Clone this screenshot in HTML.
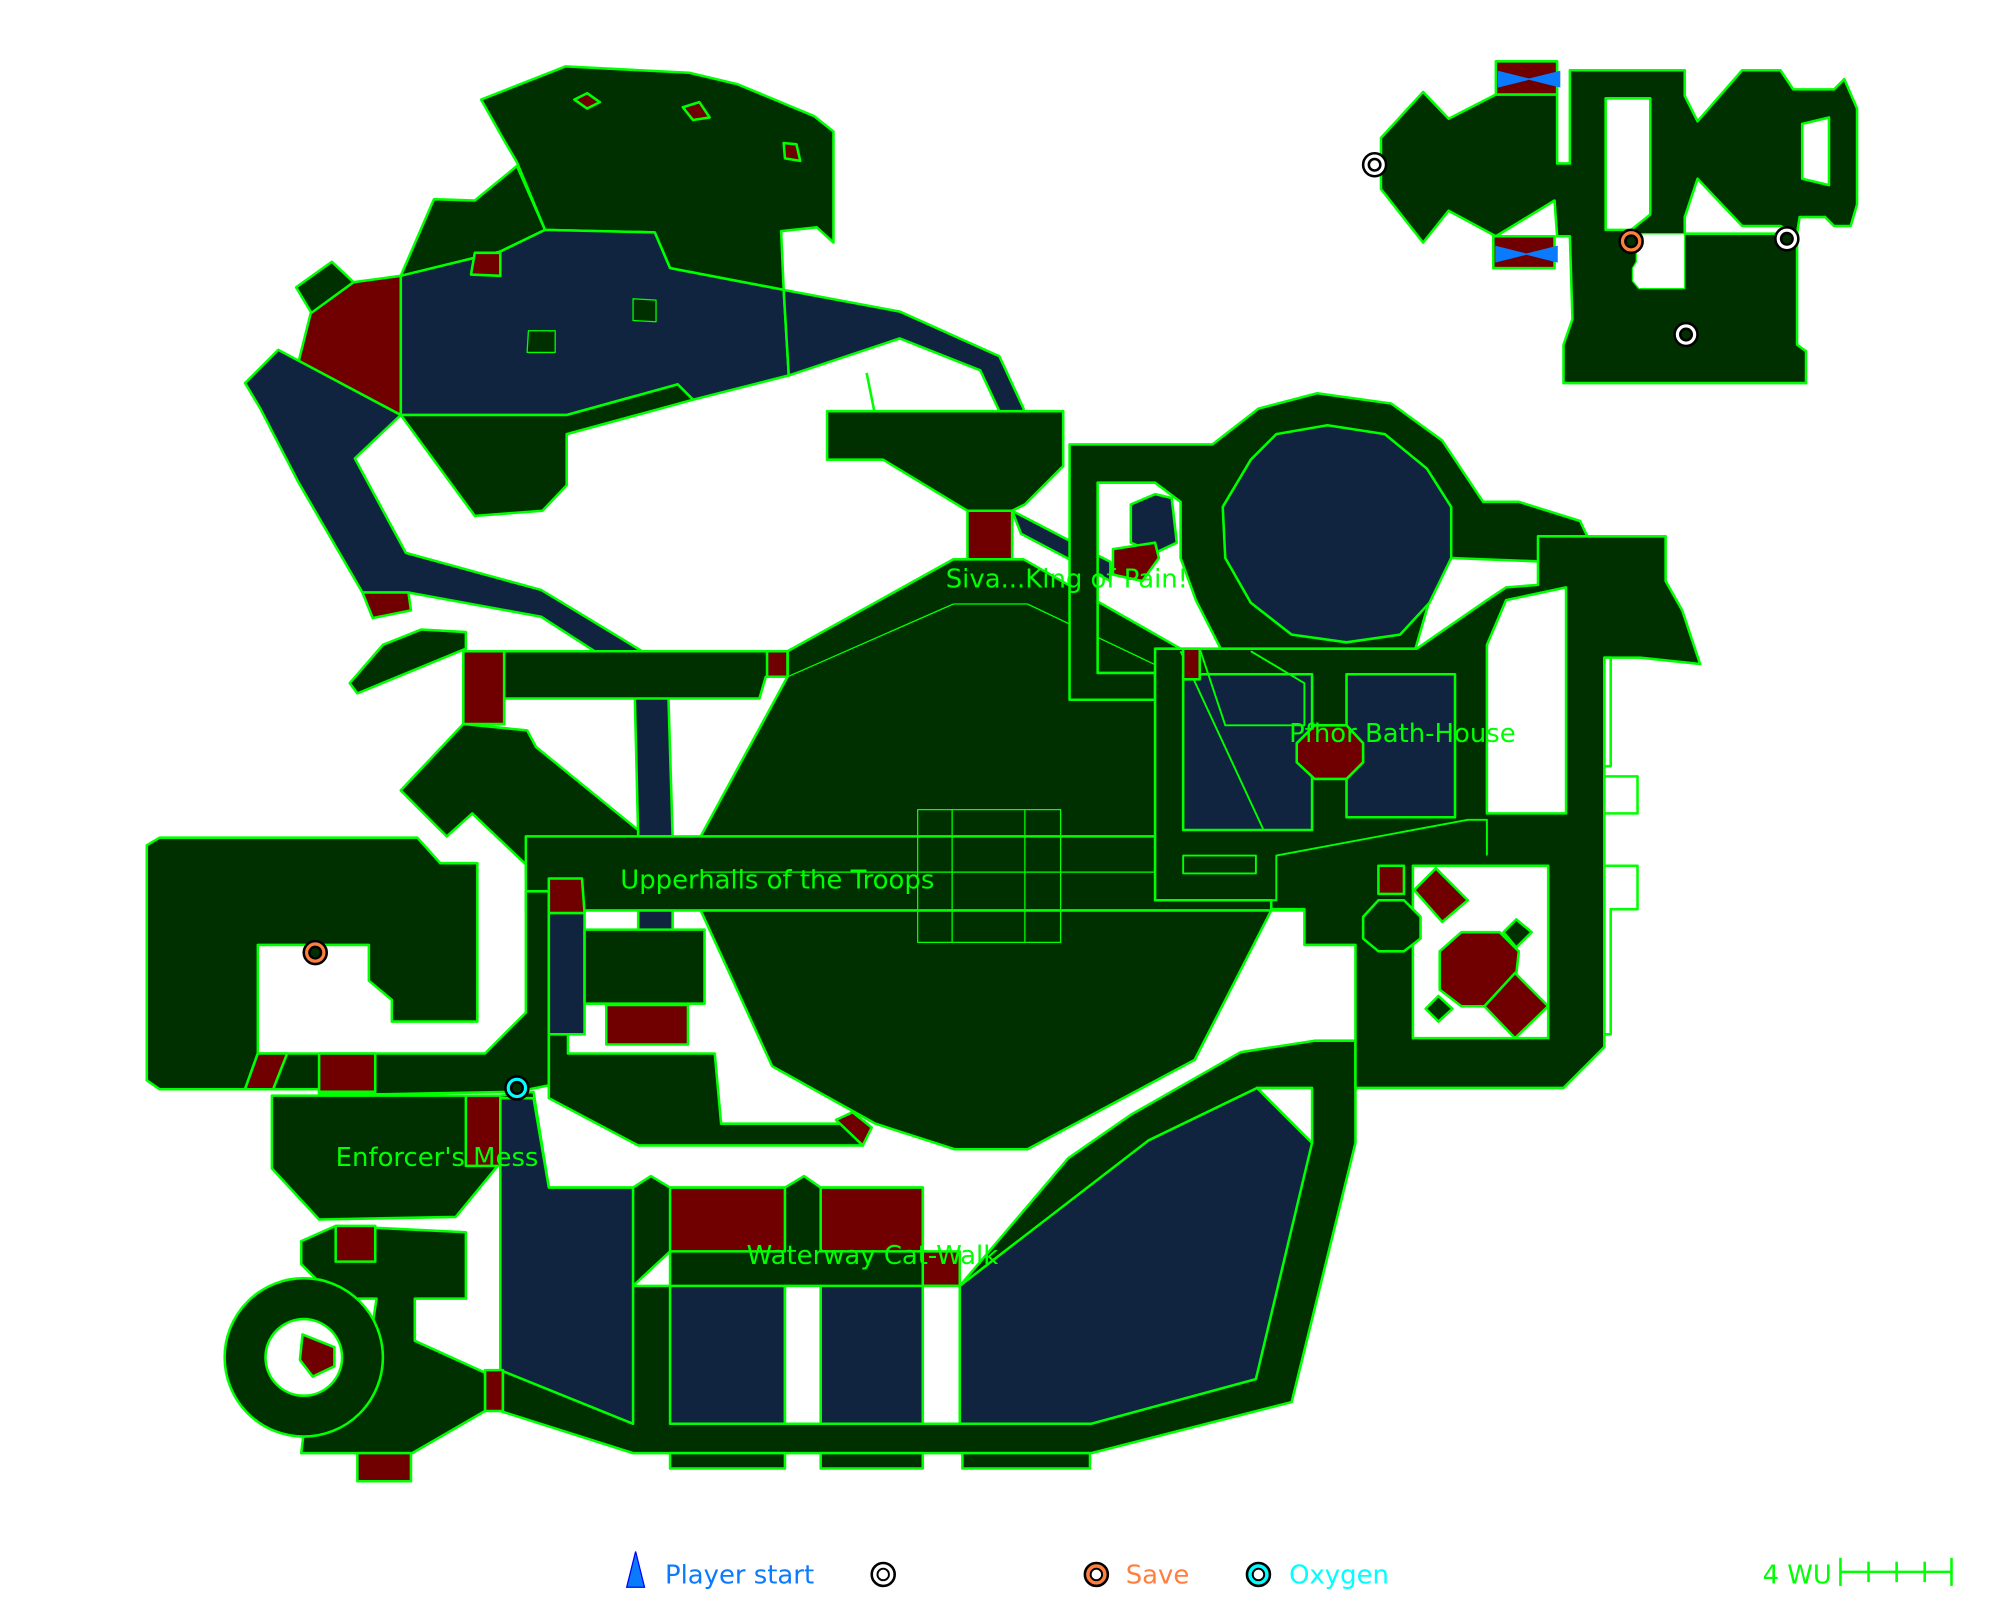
<!DOCTYPE html>
<html><head><style>
html,body{margin:0;padding:0;background:#fff;width:2000px;height:1600px;overflow:hidden}
svg{display:block}
text{font-family:"DejaVu Sans","Liberation Sans",sans-serif}
</style></head><body>
<svg width="2000" height="1600" viewBox="0 0 1567 1253" preserveAspectRatio="none" xmlns="http://www.w3.org/2000/svg">
<g stroke="#00ff00" stroke-width="2" stroke-linejoin="round">
<polygon fill="#003000" points="377,78 443,52 540,57 578,66 638,91 653,103 653,190 640,178 612,181 614,227 525,210 513,182 427,180 405,127 395,110"/>
<polygon fill="#003000" points="314,216 340,156 372,157 405,130 427,180 392,197 314,216"/>
<polygon fill="#10243f" points="314,216 392,197 427,180 513,182 525,210 614,227 618,294 543,313 531,301 444,325 314,325"/>
<polygon fill="#10243f" points="614,227 705,244 783,279 802,320 803,395 790,400 783,322 768,290 705,265 618,294"/>
<polygon fill="#003000" points="314,325 444,325 531,301 543,313 444,340 444,380 425,400 372,404"/>
<polygon fill="#700000" points="234,283 244,243 277,221 314,216 314,325"/>
<polygon fill="#003000" points="232,225 260,205 277,221 244,245"/>
<polygon fill="#10243f" points="192,300 218,274 314,325 278,359 318,433 424,462 523,522 527,655 500,655 497,530 424,483 320,464 284,464 234,378 204,320"/>
<polygon fill="#700000" points="284,464 320,464 322,478 292,484"/>
<polygon fill="#003000" points="274,535 300,505 330,493 365,495 365,508 280,543"/>
<polygon fill="#700000" points="450,78 460,73 470,80 460,85"/><polygon fill="#700000" points="535,84 548,80 556,92 543,94"/><polygon fill="#700000" points="614,112 624,113 627,126 615,124"/>
<polygon fill="#700000" points="372,198 392,198 392,216 369,215"/>
<polygon fill="#003000" points="414,259 435,259 435,276 413,276" stroke-width="1"/><polygon fill="#003000" points="496,234 514,235 514,252 496,251" stroke-width="1"/>
<polygon fill="#003000" points="648,322 833,322 833,365 803,395 793,400 793,428 783,428 783,400 758,400 692,360 648,360"/>
<polygon fill="#700000" points="758,400 793,400 793,438 758,438"/>
<polygon fill="#10243f" points="793,400 870,440 870,455 800,418"/>
<line x1="679" y1="292" x2="685" y2="322"/>
<polygon fill="#003000" points="617,510 747,438 802,438 925,508 925,655 996,713 936,830 805,900 748,900 686,880 605,835 549,713 549,655 617,530"/>
<polygon fill="#003000" points="363,510 617,510 617,530 600,530 595,547 395,547 395,567 363,567"/>
<polygon fill="#700000" points="363,510 395,510 395,567 363,567"/><polygon fill="#700000" points="601,510 617,510 617,530 601,530"/>
<polygon fill="#003000" points="363,567 413,572 420,585 500,650 500,685 412,685 412,677 370,637 350,655 314,619"/>
<polygon fill="#10243f" points="500,655 527,655 527,730 500,730"/>
<polygon fill="#003000" points="412,655 1165,655 1165,670 1100,670 1062,713 412,713"/>
<g fill="none" stroke-width="1"><rect x="719" y="634" width="112" height="104"/><line x1="549" y1="683" x2="1000" y2="683"/><line x1="746" y1="634" x2="746" y2="738"/><line x1="803" y1="634" x2="803" y2="738"/><line x1="617" y1="530" x2="747" y2="473"/><line x1="747" y1="473" x2="805" y2="473"/><line x1="805" y1="473" x2="925" y2="530"/></g>
<polygon fill="#003000" points="115,662 125,656 327,656 345,676 374,676 374,800 307,800 307,783 289,768 289,740 202,740 202,825 192,853 125,853 115,846"/>
<polygon fill="#003000" points="202,825 380,825 412,793 412,698 430,698 430,850 405,855 294,857 250,857 250,853 192,853"/>
<polygon fill="#700000" points="202,825 225,825 214,853 192,853"/><polygon fill="#700000" points="250,825 294,825 294,855 250,855"/>
<polygon fill="#10243f" points="430,715 458,715 458,810 430,810"/><polygon fill="#700000" points="430,688 456,688 458,715 430,715"/>
<polygon fill="#003000" points="458,728 552,728 552,786 458,786"/><polygon fill="#700000" points="475,787 539,787 539,818 475,818"/>
<polygon fill="#003000" points="430,810 445,810 445,825 560,825 565,880 668,880 676,897 500,897 430,860"/>
<polygon fill="#700000" points="655,877 668,871 683,883 676,897"/>
<polygon fill="#003000" points="213,858 365,858 390,913 357,953 250,955 213,915"/>
<polygon fill="#700000" points="365,858 392,858 392,913 365,913"/>
<polygon fill="#003000" points="392,858 418,855 430,930 496,930 510,921 525,930 615,930 630,921 643,930 723,930 723,1007 752,1007 837,907 886,873 972,824 1030,815 1062,815 1062,895 1012,1098 855,1138 496,1138 392,1105"/>
<polygon fill="#10243f" points="392,860 418,860 430,930 496,930 496,1115 392,1073"/>
<polygon fill="#700000" points="525,930 615,930 615,980 525,980"/><polygon fill="#700000" points="643,930 723,930 723,980 643,980"/><polygon fill="#700000" points="723,980 752,980 752,1007 723,1007"/>
<polygon fill="#10243f" points="525,1007 615,1007 615,1115 525,1115"/><polygon fill="#10243f" points="643,1007 723,1007 723,1115 643,1115"/>
<polygon fill="#fff" points="615,1007 643,1007 643,1115 615,1115"/><polygon fill="#fff" points="723,1007 752,1007 752,1115 723,1115"/>
<polygon fill="#fff" points="496,1007 525,980 525,1007"/>
<polygon fill="#10243f" points="752,1007 900,893 985,852 1028,895 984,1080 855,1115 752,1115"/>
<polygon fill="#fff" points="985,852 1028,852 1028,895"/>
<rect x="525" y="1138" width="90" height="12" fill="#003000"/><rect x="643" y="1138" width="80" height="12" fill="#003000"/><rect x="754" y="1138" width="100" height="12" fill="#003000"/>
<rect x="380" y="1073" width="14" height="32" fill="#700000"/>
<polygon fill="#003000" points="263,960 365,965 365,1017 325,1017 325,1050 380,1075 380,1105 323,1138 236,1138 240,1105 290,1050 295,1017 263,1017 236,990 236,972"/>
<polygon fill="#700000" points="263,960 294,960 294,988 263,988"/>
<circle cx="238" cy="1063" r="62" fill="#003000"/>
<circle cx="238" cy="1063" r="30" fill="#fff"/>
<polygon fill="#700000" points="237,1045 262,1055 262,1070 245,1078 235,1065"/>
<rect x="280" y="1138" width="42" height="22" fill="#700000"/>
<polygon fill="#003000" points="950,348 986,320 1032,308 1090,316 1130,345 1162,393 1190,393 1238,408 1257,448 1257,510 1228,510 1228,460 1215,440 1137,437 1120,470 1107,515 1055,528 960,515 937,470 925,437 925,393 905,378 860,378 860,527 905,527 905,548 838,548 838,348"/>
<polygon fill="#10243f" points="1000,340 1040,333 1085,340 1118,367 1137,397 1137,437 1120,472 1097,497 1055,503 1012,497 980,472 960,437 958,397 980,360"/>
<polygon fill="#10243f" points="886,395 905,387 918,390 922,425 905,433 886,425"/>
<polygon fill="#700000" points="872,430 905,425 908,437 895,455 872,450"/>
<polygon fill="#003000" points="905,508 1110,508 1165,470 1180,460 1205,458 1205,420 1305,420 1305,455 1318,478 1332,520 1285,515 1257,515 1257,820 1225,852 1062,852 1062,740 1022,740 1022,712 996,712 996,705 905,705"/>
<polygon fill="#10243f" points="927,528 1028,528 1028,650 927,650"/><polygon fill="#10243f" points="1055,528 1140,528 1140,640 1055,640"/>
<polygon fill="#fff" points="1165,505 1165,637 1227,637 1227,460 1180,470"/>
<polygon fill="#700000" points="1016,582 1030,568 1055,568 1068,582 1068,597 1055,610 1030,610 1016,597"/>
<polygon fill="#fff" points="1107,678 1213,678 1213,813 1107,813"/>
<polygon fill="#700000" points="1128,745 1145,730 1175,730 1190,745 1188,763 1175,788 1145,788 1128,775"/>
<polygon fill="#700000" points="1163,788 1187,762 1213,788 1187,813"/>
<polygon fill="#003000" points="1178,730 1188,720 1200,730 1188,742"/>
<polygon fill="#003000" points="1117,790 1127,780 1138,790 1127,800"/>
<polygon fill="#003000" points="1068,718 1080,705 1100,705 1113,718 1113,735 1100,745 1080,745 1068,735"/>
<polygon fill="#700000" points="1080,678 1100,678 1100,700 1080,700"/>
<polygon fill="#700000" points="1108,697 1125,680 1150,705 1130,722"/>
<polygon fill="#fff" points="1257,608 1283,608 1283,637 1257,637"/><polygon fill="#fff" points="1257,678 1283,678 1283,712 1262,712 1262,810 1257,810"/>
<polygon fill="#fff" points="1257,515 1262,515 1262,600 1257,600"/>
<g fill="none" stroke-width="1.5"><polyline points="905,508 905,705 1000,705 1000,670 1150,642 1165,642 1165,670"/><rect x="927" y="670" width="57" height="14"/><polyline points="940,508 960,568 1022,568 1022,535 980,510"/><polyline points="925,510 990,650"/></g>
<polygon fill="#700000" points="927,508 940,508 940,532 927,532"/>
<polygon fill="#003000" points="1082,108 1115,72 1135,93 1172,74 1220,74 1220,128 1230,128 1230,55 1320,55 1320,75 1330,95 1365,55 1395,55 1405,70 1437,70 1445,62 1455,85 1455,160 1450,177 1437,177 1430,170 1410,170 1408,183 1408,270 1415,275 1415,300 1225,300 1225,270 1232,250 1230,185 1220,185 1218,157 1172,185 1135,165 1115,190 1082,148"/>
<polygon fill="#700000" points="1172,48 1220,48 1220,74 1172,74"/><polygon fill="#700000" points="1170,185 1218,185 1218,210 1170,210"/>
<polygon fill="#fff" points="1258,77 1293,77 1293,168 1278,180 1258,180"/>
<polygon fill="#fff" points="1330,140 1320,170 1320,183 1408,183 1395,177 1365,177"/>
<polygon fill="#fff" points="1412,97 1433,92 1433,145 1412,140"/>
<polygon fill="#fff" stroke-width="1" points="1282,183 1320,183 1320,226 1284,226 1279,220 1279,210 1282,205"/>
</g>
<g fill="#0a7aff" stroke="#0a7aff"><polygon points="1174,56 1198,62 1222,56 1222,68 1198,62 1174,68"/><polygon points="1172,193 1196,199 1220,193 1220,205 1196,199 1172,205"/></g>
<g stroke-width="2">
<circle cx="1077" cy="129" r="9" fill="#fff" stroke="#000"/><circle cx="1077" cy="129" r="4.5" fill="none" stroke="#000"/>
<circle cx="1400" cy="187" r="9" fill="#fff" stroke="#000"/><circle cx="1400" cy="187" r="4.5" fill="#003000" stroke="#000"/>
<circle cx="1321" cy="262" r="9" fill="#fff" stroke="#000"/><circle cx="1321" cy="262" r="4.5" fill="#003000" stroke="#000"/>
<circle cx="1278" cy="189" r="9" fill="#ff7f3f" stroke="#000"/><circle cx="1278" cy="189" r="4.5" fill="#003000" stroke="#000"/>
<circle cx="247" cy="746" r="9" fill="#ff7f3f" stroke="#000"/><circle cx="247" cy="746" r="4.5" fill="#003000" stroke="#000"/>
<circle cx="405" cy="852" r="9" fill="#00ffff" stroke="#000"/><circle cx="405" cy="852" r="4.5" fill="#003000" stroke="#000"/>
</g>
<g fill="#00ff00" font-size="20.3">
<text x="741" y="460">Siva...King of Pain!</text>
<text x="1010" y="581">Pfhor Bath-House</text>
<text x="486" y="696">Upperhalls of the Troops</text>
<text x="263" y="913">Enforcer's Mess</text>
<text x="585" y="990">Waterway Cat-Walk</text>
</g>
<polygon points="498,1215 505,1243 491,1243" fill="#0a7aff" stroke="#00f" stroke-width="1"/>
<text x="521" y="1240" font-size="20.3" fill="#0a7aff">Player start</text>
<circle cx="692" cy="1233" r="9" fill="#fff" stroke="#000" stroke-width="2"/><circle cx="692" cy="1233" r="4.5" fill="none" stroke="#000" stroke-width="1.5"/>
<circle cx="859" cy="1233" r="9" fill="#ff7f3f" stroke="#000" stroke-width="2"/><circle cx="859" cy="1233" r="4.5" fill="#fff" stroke="#000" stroke-width="1.5"/>
<text x="882" y="1240" font-size="20.3" fill="#ff7f3f">Save</text>
<circle cx="986" cy="1233" r="9" fill="#00ffff" stroke="#000" stroke-width="2"/><circle cx="986" cy="1233" r="4.5" fill="#fff" stroke="#000" stroke-width="1.5"/>
<text x="1010" y="1240" font-size="20.3" fill="#00ffff">Oxygen</text>
<text x="1381" y="1240" font-size="20.3" fill="#00ff00">4 WU</text>
<g stroke="#00ff00" stroke-width="2"><line x1="1442" y1="1231" x2="1529" y2="1231"/><line x1="1442" y1="1220" x2="1442" y2="1242"/><line x1="1464" y1="1223" x2="1464" y2="1239"/><line x1="1486" y1="1223" x2="1486" y2="1239"/><line x1="1508" y1="1223" x2="1508" y2="1239"/><line x1="1529" y1="1220" x2="1529" y2="1242"/></g>
</svg>
</body></html>
